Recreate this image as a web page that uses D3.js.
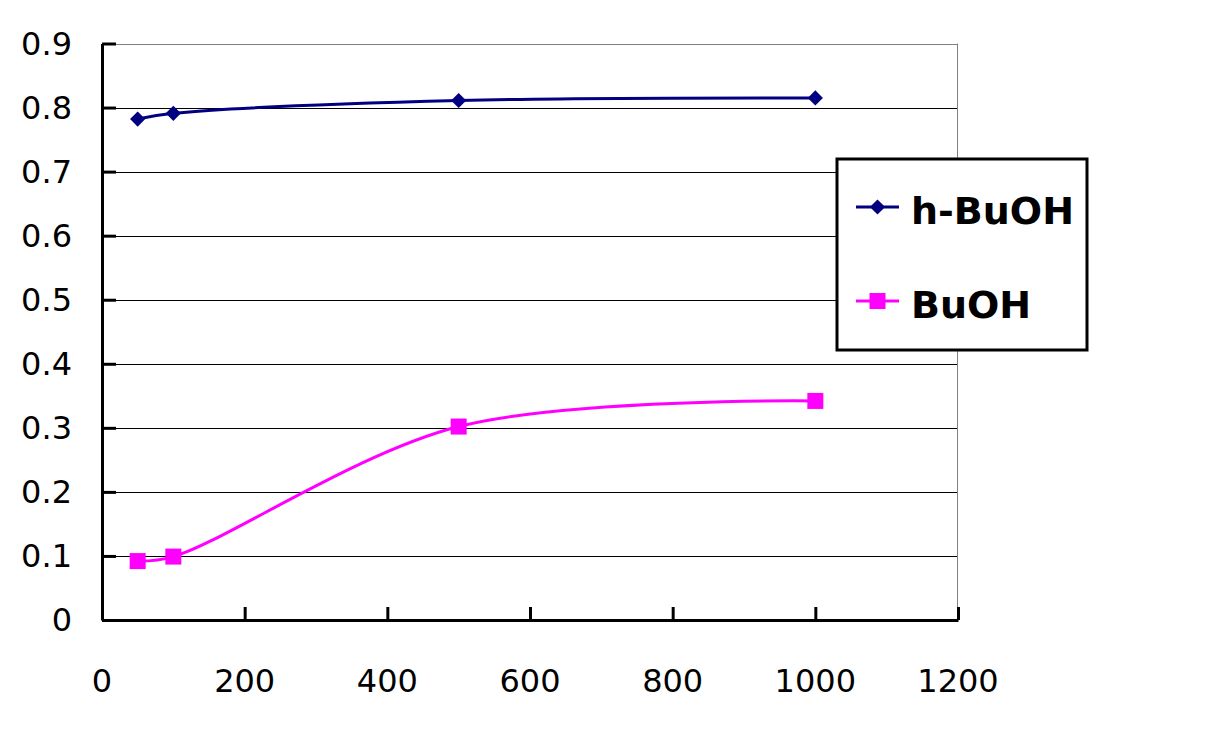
<!DOCTYPE html>
<html>
<head>
<meta charset="utf-8">
<script src="https://cdn.jsdelivr.net/npm/d3@7"></script>
<style>
  body { margin: 0; background: #fff; }
  svg { display: block; }
  text { font-family: "DejaVu Sans", sans-serif; fill: #000; }
</style>
</head>
<body>
<div id="chart"></div>
<script>
const width = 1221;
const height = 750;

// data
const xValues   = [50, 100, 500, 1000];
const hBuOH     = [0.782, 0.791, 0.811, 0.815];
const buOH      = [0.092, 0.099, 0.302, 0.342];
const xTicks    = [0, 200, 400, 600, 800, 1000, 1200];
const yTicks    = [0, 0.1, 0.2, 0.3, 0.4, 0.5, 0.6, 0.7, 0.8, 0.9];
const seriesNames = ["h-BuOH", "BuOH"];

const plotLeft = 102, plotRight = 958, plotTop = 43.5, plotBottom = 620;

var svg = d3.select("#chart").append("svg")
    .attr("width", width)
    .attr("height", height);

var xScale = d3.scaleLinear().domain([0, 1200]).range([plotLeft, plotRight]);
var yScale = d3.scaleLinear().domain([0, 0.9]).range([plotBottom, plotTop]);

// gridlines
svg.append("g")
    .selectAll("line")
    .data(yTicks.filter(d => d > 0))
    .enter()
    .append("line")
    .attr("x1", plotLeft)
    .attr("x2", plotRight)
    .attr("y1", d => Math.round(yScale(d)) + 0.5)
    .attr("y2", d => Math.round(yScale(d)) + 0.5)
    .attr("stroke", d => d == 0.9 ? "#808080" : "#000")
    .attr("stroke-width", 1);

// right border of plot area
svg.append("line")
    .attr("x1", plotRight - 0.5).attr("x2", plotRight - 0.5)
    .attr("y1", yScale(0.9)).attr("y2", plotBottom)
    .attr("stroke", "#808080")
    .attr("stroke-width", 1);

// axes, ticks pointing inward
var xAxis = d3.axisTop(xScale).tickValues(xTicks).tickSize(13).tickSizeOuter(0).tickFormat("");
var yAxis = d3.axisRight(yScale).tickValues(yTicks).tickSize(14).tickSizeOuter(0).tickFormat("");

var gx = svg.append("g")
    .attr("transform", "translate(0," + plotBottom + ")")
    .call(xAxis);
var gy = svg.append("g")
    .attr("transform", "translate(" + plotLeft + ",0)")
    .call(yAxis);

[gx, gy].forEach(function(g) {
    g.select(".domain").attr("stroke", "#000").attr("stroke-width", 3);
    g.selectAll(".tick line").attr("stroke", "#000").attr("stroke-width", 3);
});

// tick labels
svg.append("g")
    .selectAll("text")
    .data(yTicks)
    .enter()
    .append("text")
    .attr("x", 72)
    .attr("y", d => yScale(d) + 11)
    .attr("text-anchor", "end")
    .style("font-size", "32px")
    .text(d => d == 0 ? "0" : d3.format(".1f")(d));

svg.append("g")
    .selectAll("text")
    .data(xTicks)
    .enter()
    .append("text")
    .attr("x", d => xScale(d))
    .attr("y", 692)
    .attr("text-anchor", "middle")
    .style("font-size", "32px")
    .text(d => d);

// series (smoothed lines)
var line = d3.line()
    .x(d => xScale(d[0]))
    .y(d => yScale(d[1]))
    .curve(d3.curveCatmullRom.alpha(0.5));

var hData = xValues.map((x, i) => [x, hBuOH[i]]);
var bData = xValues.map((x, i) => [x, buOH[i]]);

svg.append("path")
    .datum(hData)
    .attr("d", line)
    .attr("fill", "none")
    .attr("stroke", "#000080")
    .attr("stroke-width", 3);

svg.append("path")
    .datum(bData)
    .attr("d", line)
    .attr("fill", "none")
    .attr("stroke", "#ff00ff")
    .attr("stroke-width", 3);

var diamond = d3.symbol().type(d3.symbolSquare).size(115);

svg.append("g")
    .selectAll("path")
    .data(hData)
    .enter()
    .append("path")
    .attr("d", diamond)
    .attr("transform", d => "translate(" + xScale(d[0]) + "," + yScale(d[1]) + ") rotate(45)")
    .attr("fill", "#000080");

svg.append("g")
    .selectAll("rect")
    .data(bData)
    .enter()
    .append("rect")
    .attr("x", d => xScale(d[0]) - 8)
    .attr("y", d => yScale(d[1]) - 8)
    .attr("width", 16)
    .attr("height", 16)
    .attr("fill", "#ff00ff");

// legend
var legend = svg.append("g");
legend.append("rect")
    .attr("x", 837)
    .attr("y", 159)
    .attr("width", 250)
    .attr("height", 191)
    .attr("fill", "#fff")
    .attr("stroke", "#000")
    .attr("stroke-width", 3);

var legendRows = [
    { name: seriesNames[0], color: "#000080", shape: "diamond", y: 207 },
    { name: seriesNames[1], color: "#ff00ff", shape: "square", y: 301 }
];

legendRows.forEach(function(r) {
    legend.append("line")
        .attr("x1", 856).attr("x2", 899)
        .attr("y1", r.y).attr("y2", r.y)
        .attr("stroke", r.color)
        .attr("stroke-width", 3);
    if (r.shape == "diamond") {
        legend.append("path")
            .attr("d", diamond)
            .attr("transform", "translate(877.5," + r.y + ") rotate(45)")
            .attr("fill", r.color);
    } else {
        legend.append("rect")
            .attr("x", 869.5).attr("y", r.y - 8)
            .attr("width", 16).attr("height", 16)
            .attr("fill", r.color);
    }
    legend.append("text")
        .attr("x", 911)
        .attr("y", r.y + 17)
        .style("font-size", "38px")
        .style("font-weight", "bold")
        .text(r.name);
});
</script>
</body>
</html>
